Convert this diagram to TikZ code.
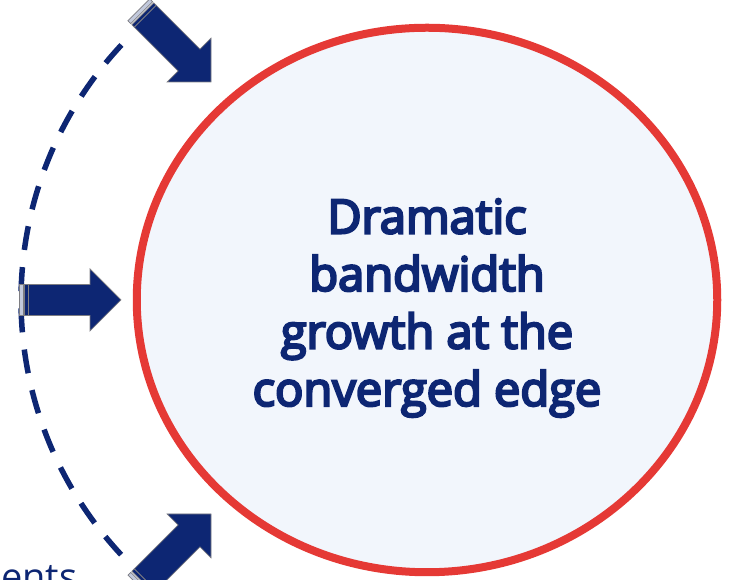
\documentclass[tikz,border=0pt]{standalone}
\usepackage{fontspec}
\setmainfont{Open Sans}
\newfontfamily\titlefont{Open Sans}[FakeBold=5]
\usepackage{tikz}
\usepackage{xcolor}
\usetikzlibrary{
    calc,
    shapes.geometric,
    positioning
}
\definecolor{navy}{RGB}{13,38,115}
\definecolor{edgered}{RGB}{229,57,53}
\definecolor{edgefill}{RGB}{242,246,252}
\definecolor{arrowgray}{RGB}{125,125,130}
\tikzset{
    stripearrow/.pic={
        \filldraw[fill=navy, draw=arrowgray, line width=0.7pt]
            (0,0) -- (-31,31) -- (-31,15.5) -- (-93,15.5) -- (-93,-15.5)
            -- (-31,-15.5) -- (-31,-31) -- cycle;
        \filldraw[fill=navy, draw=arrowgray, line width=0.7pt] (-96.5,-15.5) rectangle (-93,15.5);
        \filldraw[fill=navy!25, draw=arrowgray, line width=0.7pt] (-102,-15.5) rectangle (-98,15.5);
    }
}

\begin{document}
\begin{tikzpicture}[x=1pt, y=1pt]
    \useasboundingbox (0,0) rectangle (731,580);
    \clip (0,0) rectangle (731,580);
    % the converged edge
    \node[ellipse, draw=edgered, fill=edgefill, line width=8pt,
          minimum width=580.5pt, minimum height=544.5pt, inner sep=0pt] (edge) at (427,280) {};
    \node[text=navy, font=\titlefont\fontsize{47}{57.5}\selectfont, align=center]
        (title) at (427,272) {Dramatic\\bandwidth\\growth at the\\converged edge};
    % dashed arc
    \coordinate (arccenter) at (395,280);
    \draw[navy, line width=5.5pt, dash pattern=on 24pt off 17.3pt]
        ($(arccenter)+(137:374)$) arc[start angle=137, end angle=223, radius=374];
    % arrows
    \coordinate (tiptop) at (211,498);
    \coordinate (tipmid) at (121,280);
    \coordinate (tipbot) at (211,66);
    \pic[rotate=-45] at (tiptop) {stripearrow};
    \pic at (tipmid) {stripearrow};
    \pic[rotate=45] at (tipbot) {stripearrow};
    \node[text=navy, font=\fontsize{38}{40}\selectfont, anchor=base west, inner sep=0pt]
        (ents) at (1,-11) {ents};
\end{tikzpicture}
\end{document}
